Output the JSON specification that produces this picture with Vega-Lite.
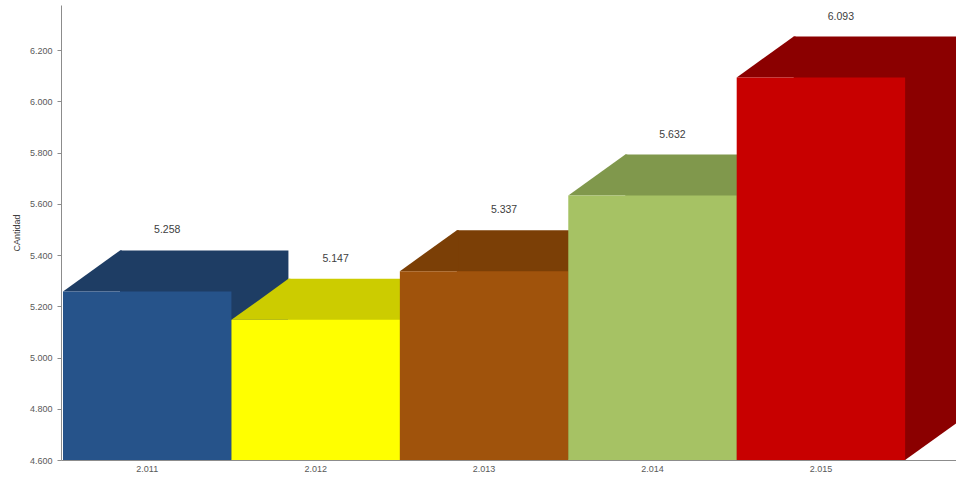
{
  "$schema": "https://vega.github.io/schema/vega-lite/v6.json",
  "width": 895,
  "height": 455,
  "autosize": {"type": "none"},
  "padding": {"left": 61, "top": 5, "right": 0, "bottom": 23},
  "background": "white",
  "config": {
    "locale": {"number": {"decimal": ",", "thousands": ".", "grouping": [3], "currency": ["", " €"]}},
    "view": {"stroke": null},
    "font": "Liberation Sans",
    "axisX": {"format": ",d", "formatType": "number", "title": null, "labelAngle": 0, "ticks": false, "labelPadding": 4, "labelFontSize": 9, "labelColor": "#595959", "domainColor": "#8c8c8c", "grid": false},
    "axisY": {"values": [4600, 4800, 5000, 5200, 5400, 5600, 5800, 6000, 6200], "format": ",d", "titleFontSize": 9, "titleFontWeight": "normal", "titleColor": "#404040", "titlePadding": 8, "labelFontSize": 9, "labelColor": "#595959", "labelPadding": 5, "tickSize": 4, "tickColor": "#8c8c8c", "domainColor": "#8c8c8c", "grid": false}
  },
  "data": {
    "values": [
      {"year": 2011, "cantidad": 5258},
      {"year": 2012, "cantidad": 5147},
      {"year": 2013, "cantidad": 5337},
      {"year": 2014, "cantidad": 5632},
      {"year": 2015, "cantidad": 6093}
    ]
  },
  "layer": [
    {
      "mark": {"type": "bar", "xOffset": 57, "yOffset": -41, "y2Offset": -41, "strokeWidth": 0},
      "encoding": {
        "x": {"field": "year", "type": "ordinal", "title": null, "scale": {"paddingInner": 0, "paddingOuter": 0.157, "align": 0.038}},
        "y": {"field": "cantidad", "type": "quantitative", "title": "CAntidad", "scale": {"domain": [4600, 6376], "nice": false, "zero": false}},
        "y2": {"datum": 4600},
        "color": {"field": "year", "type": "ordinal", "legend": null, "scale": {"domain": [2011, 2012, 2013, 2014, 2015], "range": ["#1E3D64", "#CCCC00", "#7B3F06", "#80984C", "#8B0000"]}}
      }
    },
    {
      "mark": {"type": "point", "shape": "M0,0L57,-41L59,-41L59,0Z", "size": 4, "filled": true, "opacity": 1, "strokeWidth": 0},
      "encoding": {
        "x": {"field": "year", "type": "ordinal", "title": null, "bandPosition": 0},
        "y": {"field": "cantidad", "type": "quantitative", "title": "CAntidad"},
        "color": {"field": "year", "type": "ordinal", "legend": null, "scale": {"domain": [2011, 2012, 2013, 2014, 2015], "range": ["#1E3D64", "#CCCC00", "#7B3F06", "#80984C", "#8B0000"]}}
      }
    },
    {
      "mark": {"type": "point", "shape": "M-2,0L0,0L57,-41L57,-43L-2,-43Z", "size": 4, "filled": true, "opacity": 1, "strokeWidth": 0},
      "encoding": {
        "x": {"field": "year", "type": "ordinal", "title": null, "bandPosition": 1},
        "y": {"datum": 4600, "type": "quantitative", "title": "CAntidad"},
        "color": {"field": "year", "type": "ordinal", "legend": null, "scale": {"domain": [2011, 2012, 2013, 2014, 2015], "range": ["#1E3D64", "#CCCC00", "#7B3F06", "#80984C", "#8B0000"]}}
      }
    },
    {
      "mark": {"type": "bar", "strokeWidth": 0},
      "encoding": {
        "x": {"field": "year", "type": "ordinal", "title": null},
        "y": {"field": "cantidad", "type": "quantitative", "title": "CAntidad"},
        "y2": {"datum": 4600},
        "color": {"field": "year", "type": "ordinal", "legend": null, "scale": {"domain": [2011, 2012, 2013, 2014, 2015], "range": ["#26538A", "#FFFF00", "#A0530C", "#A6C264", "#C80000"]}}
      }
    },
    {
      "mark": {"type": "text", "dx": 20, "dy": -61, "fontSize": 10.5, "color": "#404040"},
      "encoding": {
        "x": {"field": "year", "type": "ordinal", "title": null},
        "y": {"field": "cantidad", "type": "quantitative", "title": "CAntidad"},
        "text": {"field": "cantidad", "type": "quantitative", "format": ",d"}
      }
    }
  ],
  "resolve": {"scale": {"color": "independent"}}
}
